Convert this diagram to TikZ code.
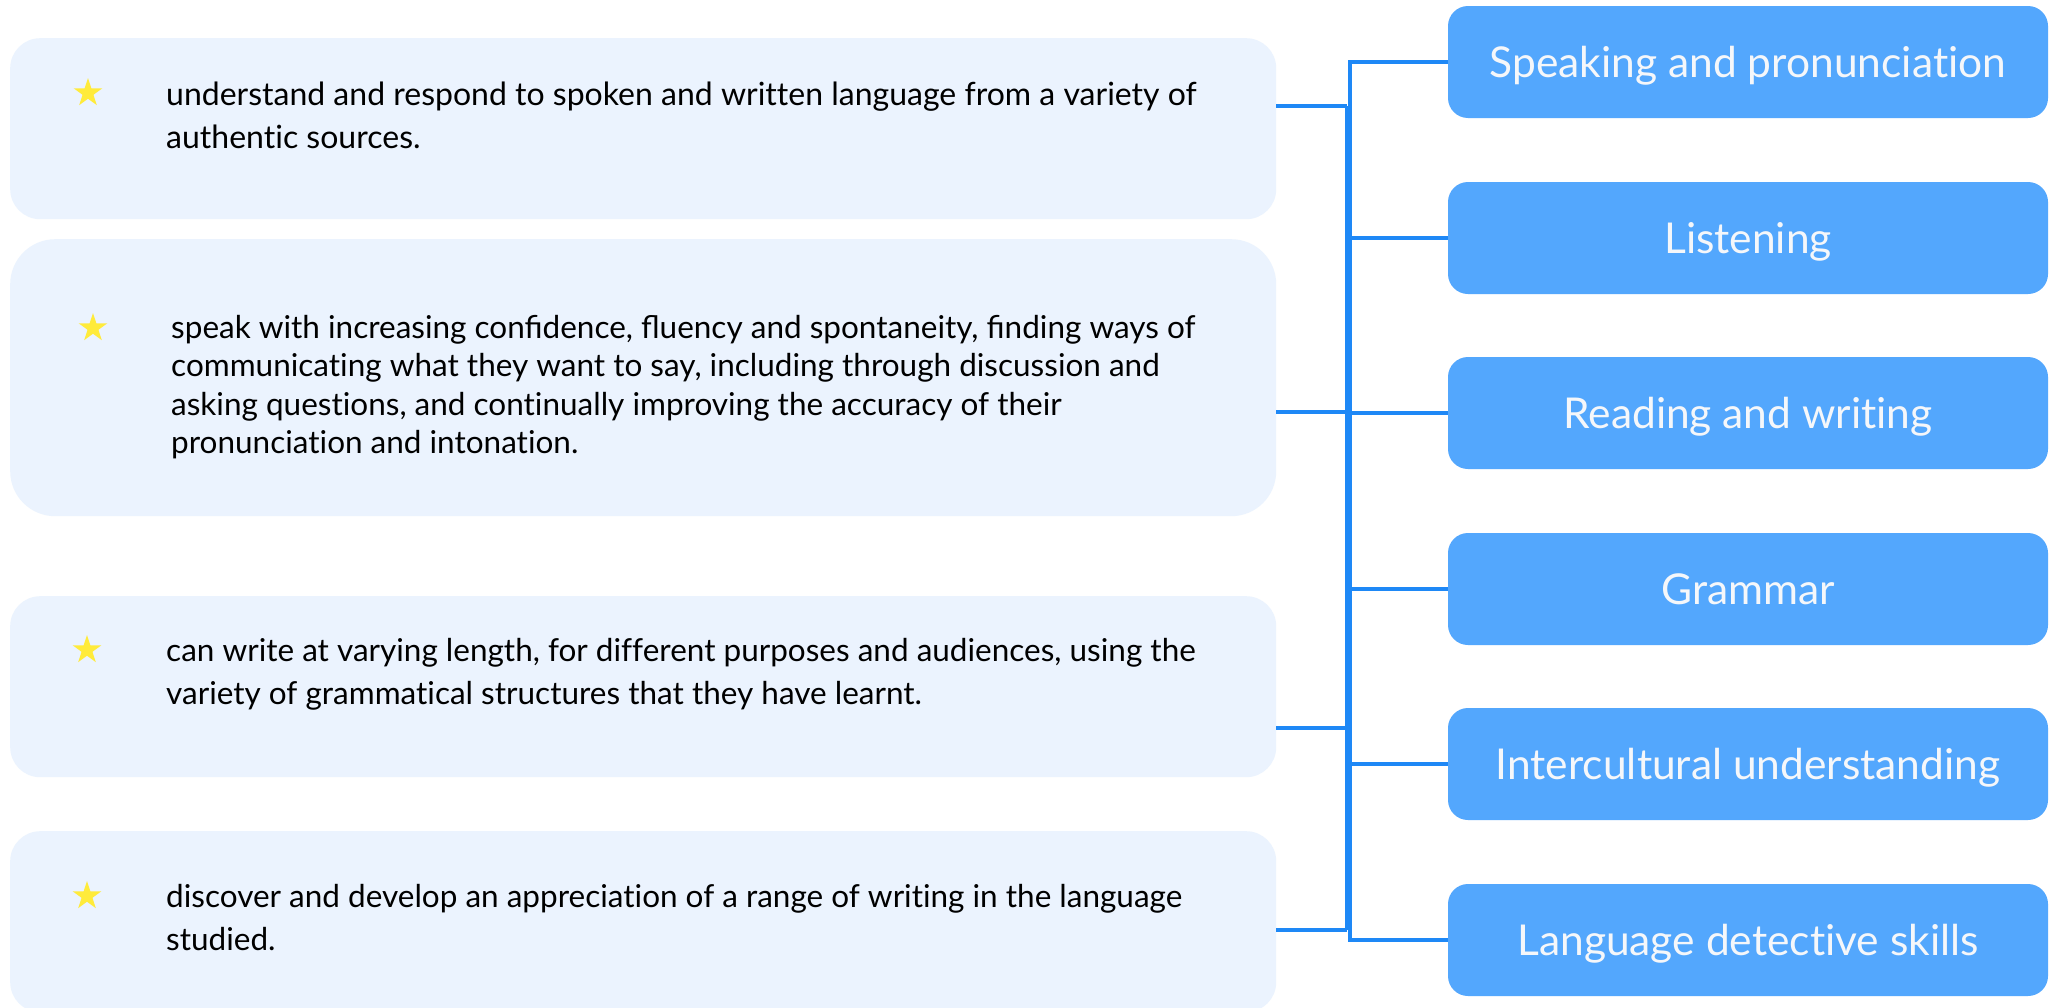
\documentclass[tikz,border=0pt]{standalone}
\usepackage{fontspec}
\setmainfont[RawFeature=-liga]{Lato}
\usetikzlibrary{shapes.geometric}
\definecolor{lfill}{RGB}{235,243,254}
\definecolor{rfill}{RGB}{83,167,253}
\definecolor{connc}{RGB}{30,136,246}
\definecolor{staryel}{RGB}{255,235,59}
\definecolor{rtext}{RGB}{245,247,250}
\begin{document}
\begin{tikzpicture}[x=1pt,y=-1pt,
 lbox/.style={draw=none,fill=lfill,rounded corners=30pt,minimum width=1266pt,minimum height=181pt,anchor=north west,inner sep=0pt},
 rbox/.style={fill=rfill,rounded corners=20pt,minimum width=600pt,minimum height=112pt,inner sep=0pt,text=rtext,font=\fontsize{42.5}{42.5}\selectfont,text height=30.5pt,text depth=0pt},
 bullet/.style={star,star points=5,star point ratio=2.618,fill=staryel,inner sep=0pt,minimum size=30pt},
 ltext/.style={anchor=base west,inner sep=0pt,text=black,font=\fontsize{31.5}{43}\selectfont},
 conn/.style={draw=connc,line width=4.5pt}
]
\useasboundingbox (0,0) rectangle (2060,1007);
\clip (0,0) rectangle (2060,1007);
\fill[white] (0,0) rectangle (2060,1007);

% left boxes
\node[lbox] (l1) at (10,38) {};
\node[lbox,minimum height=277pt,rounded corners=45pt] (l2) at (10,239) {};
\node[lbox] (l3) at (10,596) {};
\node[lbox] (l4) at (10,831) {};

% stars
\node[bullet] (s1) at (88,93) {};
\node[bullet] (s2) at (93,328) {};
\node[bullet] (s3) at (87,650) {};
\node[bullet] (s4) at (87,896) {};

% texts
\node[ltext,font=\fontsize{32}{43}\selectfont] (t1) at (166,105) {\parbox[t]{1150pt}{\raggedright understand and respond to spoken and written language from a variety of\\authentic sources.}};
\node[ltext,font=\fontsize{31.5}{38.5}\selectfont] (t2) at (171,338) {\parbox[t]{1150pt}{\raggedright speak with increasing conﬁdence, ﬂuency and spontaneity, ﬁnding ways of\\communicating what they want to say, including through discussion and\\asking questions, and continually improving the accuracy of their\\pronunciation and intonation.}};
\node[ltext] (t3) at (166,661) {\parbox[t]{1150pt}{\raggedright can write at varying length, for different purposes and audiences, using the\\variety of grammatical structures that they have learnt.}};
\node[ltext] (t4) at (166,907) {\parbox[t]{1150pt}{\raggedright discover and develop an appreciation of a range of writing in the language\\studied.}};

% right boxes
\node[rbox] (r1) at (1748,62) {Speaking and pronunciation};
\node[rbox] (r2) at (1748,238) {Listening};
\node[rbox] (r3) at (1748,413) {Reading and writing};
\node[rbox] (r4) at (1748,589) {Grammar};
\node[rbox] (r5) at (1748,764) {Intercultural understanding};
\node[rbox] (r6) at (1748,940) {Language detective skills};

% junction coordinates
\coordinate (jl1) at (1347,106);
\coordinate (jl2) at (1347,412);
\coordinate (jl3) at (1347,728);
\coordinate (jl4) at (1347,930);
\coordinate (tr) at (1350,0);

% left connectors
\draw[conn] (l1.east |- jl1) -- (jl1);
\draw[conn] (l2.east |- jl2) -- (jl2);
\draw[conn] (l3.east |- jl3) -- (jl3);
\draw[conn] (l4.east |- jl4) -- (jl4);
\draw[conn] (jl1) -- (jl4);

% right connectors
\draw[conn,line join=miter] (r1.west) -- (r1.west -| tr) -- (r6.west -| tr) -- (r6.west);
\draw[conn] (r2.west -| tr) -- (r2.west);
\draw[conn] (r3.west -| tr) -- (r3.west);
\draw[conn] (r4.west -| tr) -- (r4.west);
\draw[conn] (r5.west -| tr) -- (r5.west);
\end{tikzpicture}
\end{document}
